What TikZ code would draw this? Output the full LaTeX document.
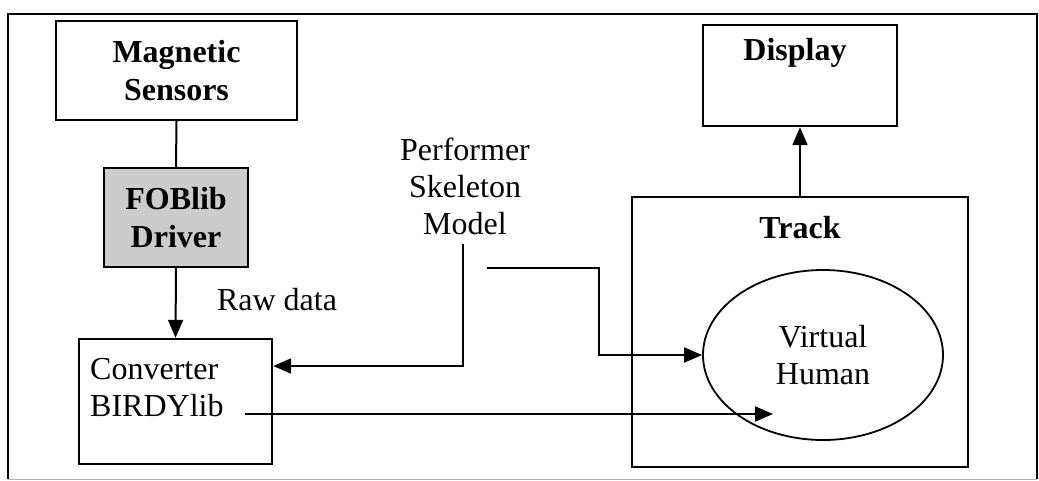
\documentclass[tikz,border=0pt]{standalone}
\usepackage{fontspec}
\setmainfont{Liberation Serif}
\usetikzlibrary{arrows.meta,shapes.geometric}
\begin{document}
\begin{tikzpicture}[x=1pt,y=-1pt,
  box/.style={draw=black,line width=2.4pt,inner sep=0pt},
  txt/.style={font=\fontsize{32}{37}\selectfont,inner sep=0pt},
  btxt/.style={font=\fontsize{32}{38}\selectfont\bfseries,inner sep=0pt,align=center},
  conn/.style={line width=2pt},
  arr/.style={line width=2pt,-{Triangle[length=18pt,width=15pt]}}]
\useasboundingbox (0,0) rectangle (1039,480);
% frame
\draw[line width=1.8pt] (8,479) -- (8,14) -- (1037,14) -- (1037,479);
\draw[line width=0.6pt,gray!60] (8,479) -- (1037,479);
% boxes
\node[box,minimum width=241pt,minimum height=99pt,btxt] (mag) at (176.5,70.5) {Magnetic\\Sensors};
\node[box,fill=gray!40,minimum width=144pt,minimum height=99pt,btxt] (fob) at (176,217.5) {FOBlib\\Driver};
\node[box,minimum width=193pt,minimum height=125pt] (conv) at (175.5,401.5) {};
\node[txt,anchor=north west,align=left] (convt) at (90,358) {Converter\\BIRDYlib};
\node[txt] (raw) at (277,300) {Raw data};
\node[txt,align=center] (perf) at (465,186) {Performer\\Skeleton\\Model};
\node[box,minimum width=194pt,minimum height=101pt] (disp) at (800,75.5) {};
\node[btxt,anchor=north] (dispt) at (795,38) {Display};
\node[box,minimum width=336pt,minimum height=270pt] (track) at (800,332) {};
\node[btxt,anchor=north] (trackt) at (800,216) {Track};
\node[draw=black,line width=1.8pt,ellipse,minimum width=240pt,minimum height=170pt,inner sep=0pt,txt,align=center] (vh) at (823,355) {Virtual\\Human};
% connectors
\coordinate (p1) at (463,244);
\coordinate (p1y) at (0,366);
\coordinate (p2) at (487,268);
\coordinate (p2x) at (599,0);
\coordinate (c3) at (245,414);
\coordinate (c4) at (773,414);
\draw[conn] (mag.south) -- (fob.north);
\draw[arr] (fob.south) -- (conv.north);
\draw[arr] (p1) |- (conv.east |- p1y);
\draw[arr] (p2) -| (p2x |- vh.west) -- (vh.west);
\draw[arr] (c3) -- (c4);
\draw[arr] (track.north -| disp.south) -- (disp.south);
\end{tikzpicture}
\end{document}
